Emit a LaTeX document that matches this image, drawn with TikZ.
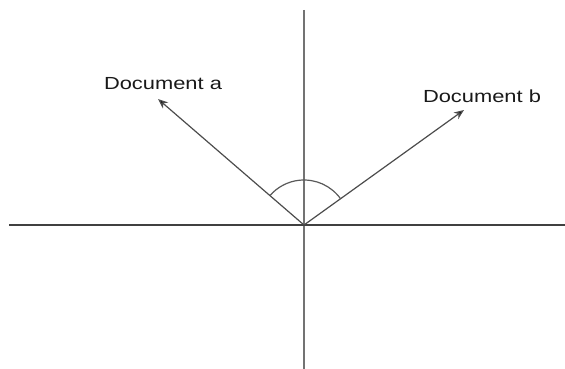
\documentclass[tikz,border=0pt]{standalone}
\usepackage{fontspec}
\setmainfont{Liberation Sans}
\usetikzlibrary{arrows.meta,calc}
\begin{document}
\begin{tikzpicture}[x=1pt,y=-1pt,
  axis/.style={line width=1.5pt,draw=black!55},
  haxis/.style={line width=1.3pt,draw=black!75},
  vec/.style={line width=1.2pt,draw=black!70,-{Stealth[length=10pt,width=8pt,fill=black]}},
  anglearc/.style={line width=1.2pt,draw=black!65},
  lbl/.style={font=\fontsize{17.5}{20}\selectfont,text=black!90,xscale=1.25,inner sep=0pt}]
\useasboundingbox (0,0) rectangle (565,369);
\coordinate (O) at (304,225);
\coordinate (top) at (304,10);
\coordinate (bot) at (304,369);
\coordinate (left) at (9,225);
\coordinate (right) at (565,225);
\coordinate (ta) at (158,99);
\coordinate (tb) at (464,110);
\node[lbl] (la) at (163,84) {Document a};
\node[lbl] (lb) at (482,96) {Document b};
\draw[axis] (top) -- (bot);
\draw[haxis] (left) -- (right);
\draw[vec] (O) -- (ta);
\draw[vec] (O) -- (tb);
\draw[anglearc] ($(O)+(-35.7:45)$) arc[start angle=-35.7,end angle=-139.2,radius=45];
\end{tikzpicture}
\end{document}
